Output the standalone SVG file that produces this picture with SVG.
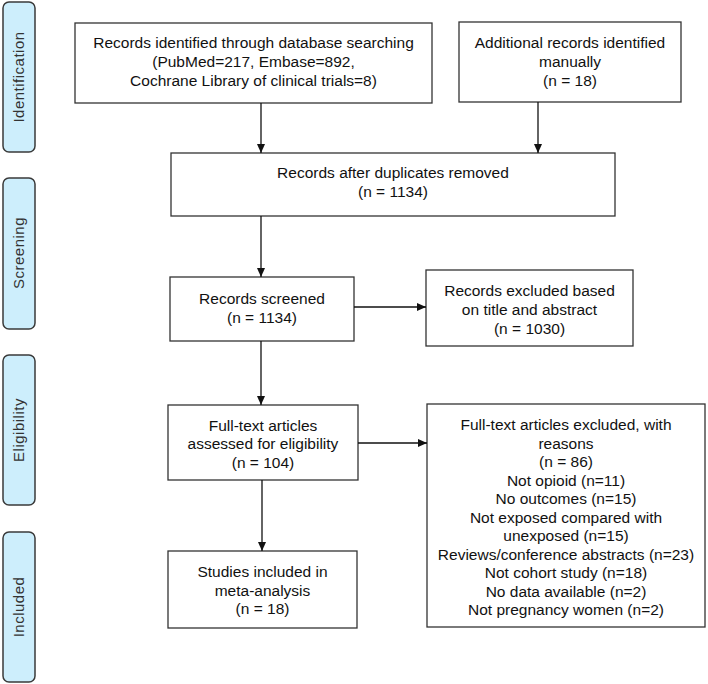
<svg xmlns="http://www.w3.org/2000/svg" width="708" height="684" viewBox="0 0 708 684">
<defs>
<marker id="ah" markerWidth="10" markerHeight="10" refX="9" refY="5" orient="auto" markerUnits="userSpaceOnUse">
<path d="M0,1 L9,5 L0,9 Z" fill="#111"/>
</marker>
<style>
.stage rect{fill:#cdeefc;stroke:#3a3a3a;stroke-width:1.5}
.stage text{font-family:"Liberation Sans",Arial,sans-serif;font-size:15px;fill:#333;text-anchor:middle;letter-spacing:0.5px}
.box rect{fill:#fff;stroke:#333;stroke-width:1.3}
.box text{font-family:"Liberation Sans",Arial,sans-serif;font-size:15.5px;fill:#111;text-anchor:middle}
.conn line{stroke:#111;stroke-width:1.3;marker-end:url(#ah)}
</style>
</defs>
<rect width="708" height="684" fill="#fff"/>
<g id="stage-identification" class="stage"><rect x="3" y="2" width="32" height="150" rx="6"/><text transform="translate(24,77) rotate(-90)">Identification</text></g>
<g id="stage-screening" class="stage"><rect x="3" y="178" width="32" height="151" rx="6"/><text transform="translate(24,253) rotate(-90)">Screening</text></g>
<g id="stage-eligibility" class="stage"><rect x="3" y="355" width="32" height="150" rx="6"/><text transform="translate(24,430) rotate(-90)">Eligibility</text></g>
<g id="stage-included" class="stage"><rect x="3" y="532" width="32" height="150" rx="6"/><text transform="translate(24,607) rotate(-90)">Included</text></g>

<g id="n-database" class="box"><rect x="75" y="23" width="357" height="80"/>
<text x="253.5" y="48">Records identified through database searching</text>
<text x="253.5" y="67">(PubMed=217, Embase=892,</text>
<text x="253.5" y="86">Cochrane Library of clinical trials=8)</text></g>
<g id="n-manual" class="box"><rect x="459" y="22" width="222" height="80"/>
<text x="570" y="48">Additional records identified</text>
<text x="570" y="67">manually</text>
<text x="570" y="86">(n = 18)</text></g>
<g id="n-dedup" class="box"><rect x="171" y="153" width="444" height="63"/>
<text x="393" y="178">Records after duplicates removed</text>
<text x="393" y="197">(n = 1134)</text></g>
<g id="n-screened" class="box"><rect x="170" y="277" width="184" height="64"/>
<text x="262" y="304">Records screened</text>
<text x="262" y="323">(n = 1134)</text></g>
<g id="n-excl1" class="box"><rect x="426" y="270" width="207" height="76"/>
<text x="529.5" y="296">Records excluded based</text>
<text x="529.5" y="315">on title and abstract</text>
<text x="529.5" y="334">(n = 1030)</text></g>
<g id="n-fulltext" class="box"><rect x="168" y="405" width="190" height="75"/>
<text x="263" y="431">Full-text articles</text>
<text x="263" y="449">assessed for eligibility</text>
<text x="263" y="468">(n = 104)</text></g>
<g id="n-excl2" class="box"><rect x="427" y="404" width="278" height="223"/>
<text x="566" y="430">Full-text articles excluded, with</text>
<text x="566" y="448.5">reasons</text>
<text x="566" y="467">(n = 86)</text>
<text x="566" y="485.5">Not opioid (n=11)</text>
<text x="566" y="504">No outcomes (n=15)</text>
<text x="566" y="522.5">Not exposed compared with</text>
<text x="566" y="541">unexposed (n=15)</text>
<text x="566" y="559.5">Reviews/conference abstracts (n=23)</text>
<text x="566" y="578">Not cohort study (n=18)</text>
<text x="566" y="596.5">No data available (n=2)</text>
<text x="566" y="615">Not pregnancy women (n=2)</text></g>
<g id="n-included" class="box"><rect x="168" y="551" width="189" height="77"/>
<text x="262.5" y="577">Studies included in</text>
<text x="262.5" y="596">meta-analysis</text>
<text x="262.5" y="614">(n = 18)</text></g>

<g id="connectors" class="conn">
<line x1="261" y1="103" x2="261" y2="153"/>
<line x1="538" y1="102" x2="538" y2="153"/>
<line x1="261" y1="216" x2="261" y2="277"/>
<line x1="354" y1="307" x2="426" y2="307"/>
<line x1="261" y1="341" x2="261" y2="405"/>
<line x1="358" y1="443" x2="427" y2="443"/>
<line x1="262" y1="480" x2="262" y2="551"/>
</g>
</svg>
